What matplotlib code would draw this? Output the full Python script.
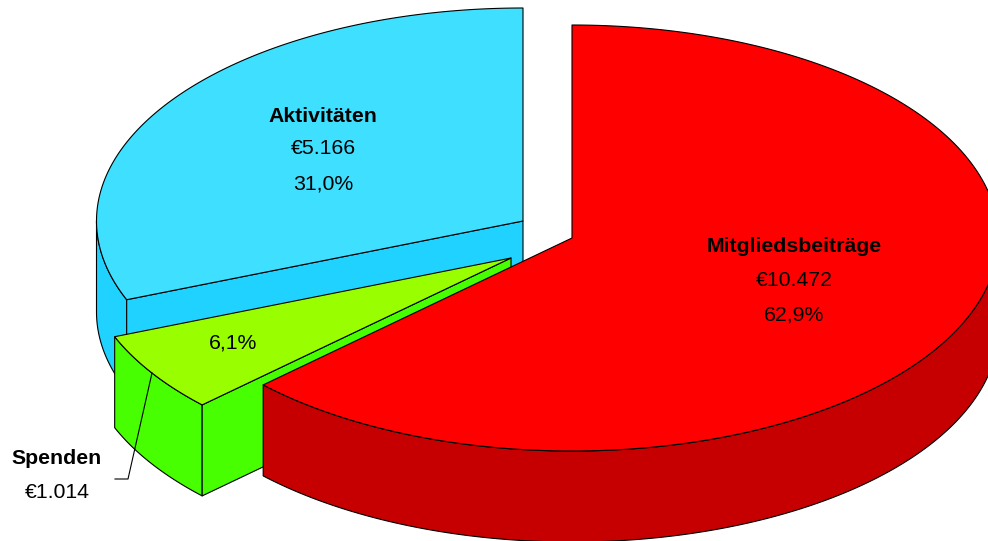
import numpy as np
import matplotlib
matplotlib.use("Agg")
import matplotlib.pyplot as plt

# Daten: im Uhrzeigersinn ab 12 Uhr
names = ["Mitgliedsbeiträge", "Spenden", "Aktivitäten"]
euros = [10472, 1014, 5166]
euro_labels = ["€10.472", "€1.014", "€5.166"]
pct_labels = ["62,9%", "6,1%", "31,0%"]

top_colors = ["#FF0000", "#99FF00", "#3FE0FF"]
side_colors = ["#C60000", "#47FF00", "#1FD2FF"]

# Pixel-Layout des Tortenstuecks
rx, ry, depth = 426.5, 213, 91
centers = [(572, 238), (511, 258), (523, 221)]
font_size = 15.3

plt.rcParams["font.family"] = ["Liberation Sans", "DejaVu Sans"]
fig = plt.figure(figsize=(9.88, 5.41), dpi=100)
ax = fig.add_axes([0, 0, 1, 1])
ax.set_xlim(0, 988)
ax.set_ylim(541, 0)
ax.axis("off")

shares = np.array(euros) / sum(euros)
edges = np.concatenate([[0], np.cumsum(shares)]) * 360


def rim(center, a0, a1):
    t = np.radians(np.linspace(a0, a1, 200))
    return np.column_stack([center[0] + rx * np.sin(t), center[1] - ry * np.cos(t)])


def draw_poly(points, color, z):
    ax.fill(points[:, 0], points[:, 1], facecolor=color, edgecolor="black",
            linewidth=0.8, joinstyle="round", zorder=z)


def drop(points):
    return points + np.array([0, depth])


def label(x, y, s, bold=False):
    ax.text(x, y, s, ha="center", va="center", fontsize=font_size,
            fontweight="bold" if bold else "normal", zorder=50)


# Reihenfolge: erst Aktivitaeten, dann Spenden, zuletzt Mitgliedsbeitraege
for z, i in enumerate([2, 1, 0]):
    a0, a1 = edges[i], edges[i + 1]
    c = centers[i]
    base = z * 10

    # Aussenwand, nur der sichtbare vordere Teil
    v0, v1 = max(a0, 90), min(a1, 270)
    if v1 > v0:
        arc = rim(c, v0, v1)
        draw_poly(np.vstack([arc, drop(arc)[::-1]]), side_colors[i], base + 1)

    # Schnittflaeche an der Startkante (bei Rot verdeckt)
    if i != 0:
        p = rim(c, a0, a0)[0]
        quad = np.array([c, p, p + [0, depth], np.array(c) + [0, depth]])
        draw_poly(quad, side_colors[i], base + 2)

    # Deckflaeche
    draw_poly(np.vstack([[c], rim(c, a0, a1)]), top_colors[i], base + 3)

# Beschriftungen
label(794, 247, names[0], bold=True)
label(794, 280, euro_labels[0])
label(794, 315, pct_labels[0])

label(323, 116, names[2], bold=True)
label(323, 149, euro_labels[2])
label(323, 184, pct_labels[2])

label(233, 343, pct_labels[1])
label(57, 459, names[1], bold=True)
label(57, 492, euro_labels[1])

# Fuehrungslinie zu Spenden
ax.plot([152, 128, 115], [373, 479, 479], color="black", linewidth=0.8, zorder=49)

fig.savefig("out.png", dpi=100, facecolor="white")
